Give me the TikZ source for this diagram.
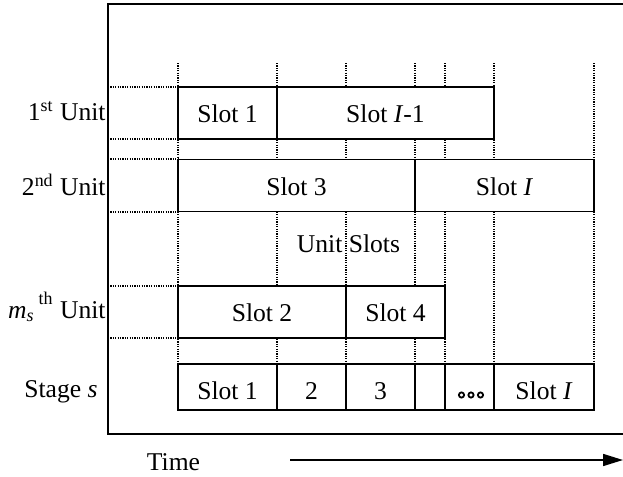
\documentclass[tikz,border=0pt]{standalone}
\usepackage{fontspec}
\setmainfont{Liberation Serif}
\usetikzlibrary{arrows.meta}
\begin{document}
\begin{tikzpicture}[x=0.5pt,y=-0.5pt,
  every node/.style={font=\fontsize{12.8}{15}\selectfont, inner sep=0pt},
  frameline/.style={line width=0.9pt},
  gridline/.style={line width=0.65pt, dash pattern=on 0.6pt off 0.6pt},
  unitbox/.style={draw, fill=white, line width=0.8pt, minimum height=26pt, text height=9.5pt, text depth=0pt},
  stagebox/.style={draw, fill=white, line width=0.8pt, minimum height=23pt, text height=12pt, text depth=0pt},
  rowlabel/.style={anchor=base east},
  dotmark/.style={draw, line width=0.9pt, fill=white},
  timearrow/.style={line width=0.8pt, -{Triangle[length=10pt, width=6pt]}},
  ]
\useasboundingbox (0,0) rectangle (623,477);
% frame
\coordinate (ftr) at (623,4);
\coordinate (ftl) at (108,4);
\coordinate (fbl) at (108,434);
\coordinate (fbr) at (623,434);
\draw[frameline] (ftr) -- (ftl) -- (fbl) -- (fbr);
% grid
\foreach \x in {178,277,346,415,445,494,594}
  \draw[gridline] (\x,63) -- (\x,364);
\foreach \y in {87,139,159,212,286,338}
  \draw[gridline] (108,\y) -- (178,\y);
% row labels
\node[rowlabel] (l1) at (106,120.5) {1\textsuperscript{st} Unit};
\node[rowlabel] (l2) at (106,195) {2\textsuperscript{nd} Unit};
\node[rowlabel] (lm) at (106,318) {\textit{m}\textsubscript{\textit{s}}\,\raisebox{0.2em}{\textsuperscript{th}} Unit};
\node[rowlabel] (ls) at (98,397) {Stage \textit{s}};
% unit 1
\node[unitbox, minimum width=49.5pt] (u1a) at (227.5,113) {Slot 1};
\node[unitbox, minimum width=108.5pt] (u1b) at (385.5,113) {Slot \textit{I}-1};
% unit 2
\node[unitbox, minimum width=118.5pt] (u2a) at (296.5,185.5) {Slot 3};
\node[unitbox, minimum width=89.5pt] (u2b) at (504.5,185.5) {Slot \textit{I}};
% unit slots label
\node[anchor=base] (us) at (348.5,252) {Unit Slots};
% unit m
\node[unitbox, minimum width=84pt] (uma) at (262,312) {Slot 2};
\node[unitbox, minimum width=49.5pt] (umb) at (395.5,312) {Slot 4};
% stage
\node[stagebox, minimum width=49.5pt] (s1) at (227.5,387) {Slot 1};
\node[stagebox, minimum width=34.5pt] (s2) at (311.5,387) {2};
\node[stagebox, minimum width=34.5pt] (s3) at (380.5,387) {3};
\node[stagebox, minimum width=15pt] (s4) at (430,387) {};
\node[stagebox, minimum width=24.5pt] (sd) at (469.5,387) {};
\node[stagebox, minimum width=50pt] (sI) at (544,387) {Slot \textit{I}};
\foreach \dx in {-8,1.5,11}
  \draw[dotmark] ([xshift=\dx*0.5pt, yshift=-4pt]sd.center) circle[radius=1.3pt];
% time
\node[anchor=base] (time) at (173.5,470) {Time};
\coordinate (ta) at (290,460);
\coordinate (tb) at (623,460);
\draw[timearrow] (ta) -- (tb);
\end{tikzpicture}
\end{document}
